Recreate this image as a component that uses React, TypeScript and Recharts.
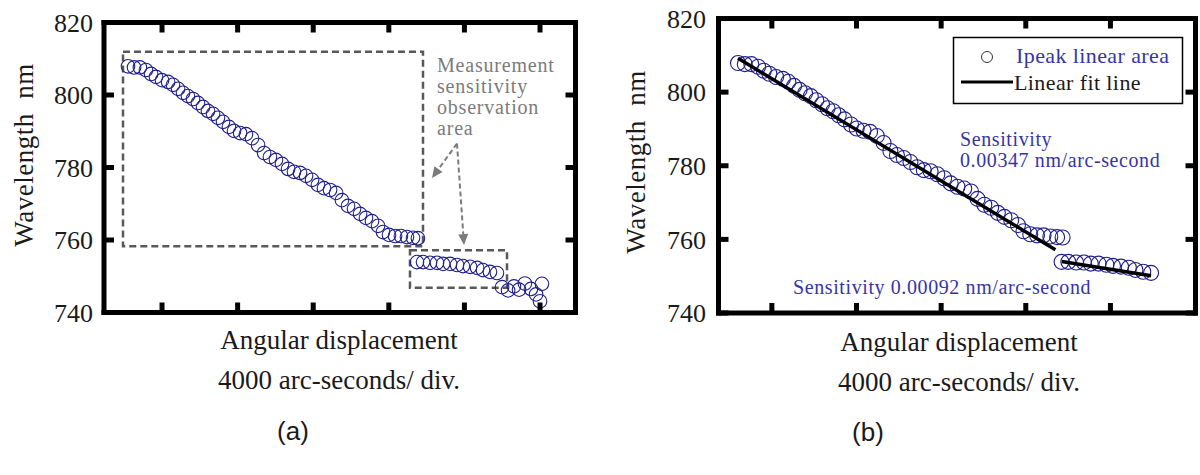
import React from "react";
import {
  ScatterChart,
  Scatter,
  XAxis,
  YAxis,
  ReferenceArea,
  ReferenceLine,
} from "recharts";

const SERIF = '"Liberation Serif", "Times New Roman", serif';
const SANS = '"Liberation Sans", Arial, sans-serif';

// peak wavelength vs angular position (arc-seconds from the first sample)
// steep region of the response
const steepAngle = [
  0, 320, 630, 950, 1220, 1480, 1800, 2120, 2380, 2650, 2910, 3170, 3440,
  3700, 3970, 4230, 4500, 4760, 5030, 5340, 5610, 5930, 6240, 6560, 6880,
  7200, 7510, 7830, 8150, 8470, 8780, 9100, 9420, 9740, 10050, 10370, 10690,
  11010, 11320, 11640, 11960, 12280, 12590, 12910, 13230, 13490, 13810, 14130,
  14440, 14760, 15080, 15340,
];
const steepWavelength = [
  807.9, 807.6, 807.6, 806.9, 805.8, 805.0, 804.1, 803.6, 802.8, 801.7, 800.6,
  799.7, 798.9, 797.8, 796.7, 795.6, 794.8, 793.7, 792.6, 791.2, 790.1, 789.5,
  789.2, 788.1, 786.2, 784.0, 782.9, 782.1, 781.0, 779.6, 778.8, 778.5, 777.7,
  776.6, 775.2, 774.3, 773.8, 773.0, 771.0, 769.4, 768.6, 767.2, 766.1, 765.2,
  763.9, 762.2, 761.4, 761.1, 761.1, 760.8, 760.6, 760.5,
];

// flat region after the jump
const flatAngle = [
  15290, 15610, 15980, 16350, 16670, 17040, 17410, 17720, 18100, 18470, 18780,
  19150, 19520,
];
const flatWavelength = [
  753.9, 753.9, 753.7, 753.7, 753.4, 753.4, 753.1, 752.8, 752.6, 752.3, 751.7,
  751.2, 750.9,
];

// end of travel, outside the linear range
const tailAngle = [19790, 20110, 20420, 20690, 21000, 21320, 21590, 21800, 21900];
const tailWavelength = [747.0, 746.1, 747.2, 746.3, 748.0, 746.5, 745.0, 743.1, 747.9];

const wavelengthTicks = [740, 760, 780, 800, 820];
const leftAngleTicks = [1800, 5800, 9800, 13800, 17800, 21800];
const rightAngleTicks = [1600, 5600, 9600, 13600, 17600];

// linear fits (nm per arc-second)
const steepSensitivity = 0.00347;
const flatSensitivity = 0.00092;
const steepFitFrom = { x: 0, y: 809.2 };
const steepFitToX = 15000;
const flatFitFrom = { x: 15300, y: 754.0 };
const flatFitToX = 19520;

type Pt = { x: number; y: number };
type Side = "bottom" | "top" | "left" | "right";

const zip = (a: number[], w: number[]): Pt[] => a.map((x, i) => ({ x, y: w[i] }));

const fitLine = (from: Pt, toX: number, slope: number): Pt[] => [
  from,
  { x: toX, y: from.y - slope * (toX - from.x) },
];

const steep = zip(steepAngle, steepWavelength);
const flat = zip(flatAngle, flatWavelength);
const tail = zip(tailAngle, tailWavelength);
const steepFit = fitLine(steepFitFrom, steepFitToX, steepSensitivity);
const flatFit = fitLine(flatFitFrom, flatFitToX, flatSensitivity);

const MARKER = "#1f1f8c";
const BLUE = "#3535a8";
const GREY = "#7b7b7b";

const frameLine = { stroke: "#000", strokeWidth: 5, strokeLinecap: "square" as const };

const ring = (r: number) => (props: any) =>
  <circle cx={props.cx} cy={props.cy} r={r} fill="none" stroke={MARKER} strokeWidth={1.1} />;

const noDot = () => <g />;

// tick mark pointing into the plot; left axis also gets its number
const inwardTick = (side: Side, gap = 0) => (p: any) => {
  const { x, y } = p;
  const len = 10;
  const x2 = side === "left" ? x + len : side === "right" ? x - len : x;
  const y2 = side === "bottom" ? y - len : side === "top" ? y + len : y;
  return (
    <g>
      <line x1={x} y1={y} x2={x2} y2={y2} stroke="#000" strokeWidth={5} />
      {side === "left" && (
        <text x={x - gap} y={y} dy="0.36em" textAnchor="end" fontFamily={SERIF}
          fontSize={26} fill="#1a1a1a">{p.payload.value}</text>
      )}
    </g>
  );
};

// dashed arrow with a filled head at (x2, y2)
const Arrow = (props: any) => {
  const { x1, y1, x2, y2 } = props;
  const dx = x2 - x1;
  const dy = y2 - y1;
  const len = Math.hypot(dx, dy);
  const ux = dx / len;
  const uy = dy / len;
  const head = 11;
  const bx = x2 - ux * head;
  const by = y2 - uy * head;
  return (
    <g>
      <line x1={x1} y1={y1} x2={bx} y2={by} stroke={GREY} strokeWidth={2} strokeDasharray="5 3" />
      <polygon
        points={`${x2},${y2} ${bx - uy * 5},${by + ux * 5} ${bx + uy * 5},${by - ux * 5}`}
        fill={GREY}
      />
    </g>
  );
};

const frameAxes = (domain: number[], ticks: number[], yWidth: number, labelGap: number) => [
  <XAxis key="xb" xAxisId="b" type="number" dataKey="x" domain={domain} ticks={ticks} interval={0}
    allowDataOverflow tick={inwardTick("bottom")} tickSize={0} tickMargin={0} height={1}
    axisLine={frameLine} tickLine={false} />,
  <XAxis key="xt" xAxisId="t" orientation="top" type="number" dataKey="x" domain={domain} ticks={ticks}
    interval={0} allowDataOverflow tick={inwardTick("top")} tickSize={0} tickMargin={0} height={1}
    axisLine={frameLine} tickLine={false} />,
  <YAxis key="yl" yAxisId="l" type="number" dataKey="y" domain={[740, 820]} ticks={wavelengthTicks}
    interval={0} allowDataOverflow tickSize={0} tickMargin={0} width={yWidth}
    axisLine={frameLine} tickLine={false} tick={inwardTick("left", labelGap)} />,
  <YAxis key="yr" yAxisId="r" orientation="right" type="number" dataKey="y" domain={[740, 820]}
    ticks={wavelengthTicks} interval={0} allowDataOverflow tick={inwardTick("right")} tickSize={0}
    tickMargin={0} width={1} axisLine={frameLine} tickLine={false} />,
];

const LeftPanel = () => (
  <ScatterChart width={600} height={330} margin={{ top: 21.5, bottom: 16.5, left: 0, right: 23.5 }}>
    {frameAxes([-1270, 23677], leftAngleTicks, 104, 11)}
    <ReferenceArea xAxisId="b" yAxisId="l" x1={-265} x2={15608} y1={758.3} y2={811.9}
      fill="none" stroke="#595959" strokeWidth={2.5} strokeDasharray="7 4" ifOverflow="visible" />
    <ReferenceArea xAxisId="b" yAxisId="l" x1={14920} x2={20053} y1={746.8} y2={757.2}
      fill="none" stroke="#595959" strokeWidth={2.5} strokeDasharray="7 4" ifOverflow="visible" />
    <ReferenceLine xAxisId="b" yAxisId="l" segment={[{ x: 17407, y: 786.6 }, { x: 16084, y: 777.1 }]}
      shape={Arrow} ifOverflow="visible" />
    <ReferenceLine xAxisId="b" yAxisId="l" segment={[{ x: 17407, y: 786.6 }, { x: 17778, y: 758.6 }]}
      shape={Arrow} ifOverflow="visible" />
    <Scatter xAxisId="b" yAxisId="l" data={steep} shape={ring(6.8)} isAnimationActive={false} />
    <Scatter xAxisId="b" yAxisId="l" data={flat} shape={ring(6.8)} isAnimationActive={false} />
    <Scatter xAxisId="b" yAxisId="l" data={tail} shape={ring(6.8)} isAnimationActive={false} />
  </ScatterChart>
);

const RightPanel = () => (
  <ScatterChart width={600} height={330} margin={{ top: 17.5, bottom: 16, left: 0, right: 3.5 }}>
    {frameAxes([-922, 21620], rightAngleTicks, 118.5, 12.5)}
    <Scatter xAxisId="b" yAxisId="l" name="Ipeak linear area" data={steep} shape={ring(7.5)} isAnimationActive={false} />
    <Scatter xAxisId="b" yAxisId="l" data={flat} shape={ring(7.5)} isAnimationActive={false} />
    <Scatter xAxisId="b" yAxisId="l" name="Linear fit line" data={steepFit} shape={noDot}
      line={{ stroke: "#000", strokeWidth: 3.5 }} isAnimationActive={false} />
    <Scatter xAxisId="b" yAxisId="l" data={flatFit} shape={noDot}
      line={{ stroke: "#000", strokeWidth: 3.5 }} isAnimationActive={false} />
  </ScatterChart>
);

const Labels = () => (
  <svg width={1200} height={475} style={{ position: "absolute", left: 0, top: 0, pointerEvents: "none" }}>
    <g fontFamily={SERIF} fill="#1a1a1a">
      <text x={24} y={155} fontSize={27} letterSpacing={0.5} textAnchor="middle"
        dominantBaseline="central" transform="rotate(-90 24 155)">{"Wavelength\u00a0 nm"}</text>
      <text x={636} y={162} fontSize={27} letterSpacing={0.5} textAnchor="middle"
        dominantBaseline="central" transform="rotate(-90 636 162)">{"Wavelength\u00a0 nm"}</text>

      <text x={339} y={349} fontSize={27} textAnchor="middle">Angular displacement</text>
      <text x={339} y={389} fontSize={27} textAnchor="middle">4000 arc-seconds/ div.</text>
      <text x={959} y={351} fontSize={27} textAnchor="middle">Angular displacement</text>
      <text x={959} y={391} fontSize={27} textAnchor="middle">4000 arc-seconds/ div.</text>
    </g>
    <g fontFamily={SANS} fill="#1a1a1a" fontSize={26} textAnchor="middle">
      <text x={293} y={440}>(a)</text>
      <text x={868} y={441}>(b)</text>
    </g>

    {/* note on panel (a) */}
    <g fontFamily={SERIF} fill={GREY} fontSize={20} letterSpacing={0.8}>
      <text x={437} y={71.5}>Measurement</text>
      <text x={437} y={92.8}>sensitivity</text>
      <text x={437} y={114}>observation</text>
      <text x={437} y={135.3}>area</text>
    </g>

    {/* panel (b) legend */}
    <rect x={953.5} y={37.5} width={229} height={66} fill="#fff" stroke="#000" strokeWidth={1.5} />
    <circle cx={987} cy={57} r={5.5} fill="none" stroke="#333" strokeWidth={1} />
    <line x1={961} y1={82} x2={1013} y2={82} stroke="#000" strokeWidth={3} />
    <g fontFamily={SERIF} fontSize={22} letterSpacing={0.4}>
      <text x={1016} y={63} fill={BLUE}>Ipeak linear area</text>
      <text x={1014} y={90} fill="#1a1a1a">Linear fit line</text>
    </g>

    <g fontFamily={SERIF} fontSize={20} letterSpacing={0.6} fill={BLUE}>
      <text x={960} y={146}>Sensitivity</text>
      <text x={960} y={167}>0.00347 nm/arc-second</text>
      <text x={793} y={294}>Sensitivity 0.00092 nm/arc-second</text>
    </g>
  </svg>
);

export default function App() {
  return (
    <div style={{ position: "absolute", left: 0, top: 0, width: 1200, height: 475, background: "#fff", overflow: "hidden" }}>
      <div style={{ position: "absolute", left: 0, top: 0 }}>
        <LeftPanel />
      </div>
      <div style={{ position: "absolute", left: 600, top: 0 }}>
        <RightPanel />
      </div>
      <Labels />
    </div>
  );
}
